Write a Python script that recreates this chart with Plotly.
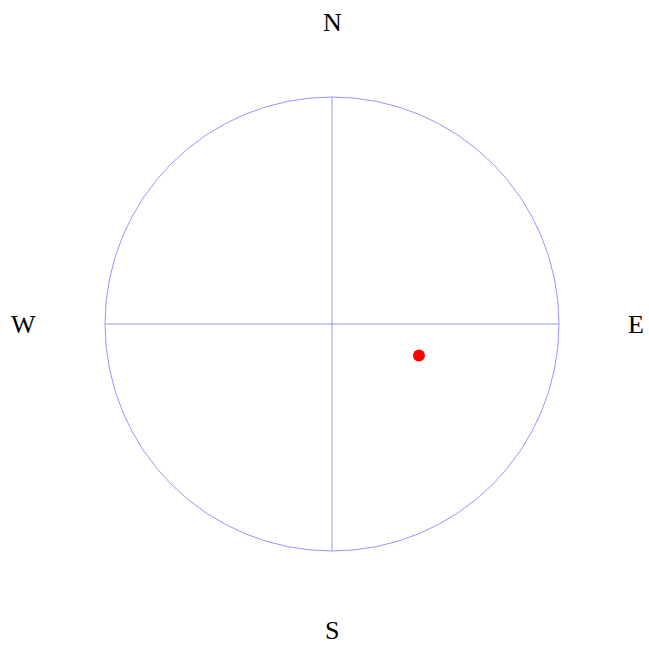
import plotly.graph_objects as go

# Data
point_x = [0.383]
point_y = [-0.139]
labels = ["N", "E", "S", "W"]
label_x = [0.0, 1.339, 0.0, -1.357]
label_y = [1.330, 0.0, -1.348, 0.0]

W, H = 649, 646
cx, cy, r = 332, 324, 227

fig = go.Figure()
fig.add_trace(go.Scatter(x=point_x, y=point_y, mode="markers",
                         marker=dict(color="red", size=12), showlegend=False, hoverinfo="skip"))

line_col = "rgba(130,130,255,0.85)"
fig.add_shape(type="circle", xref="x", yref="y", x0=-1, y0=-1, x1=1, y1=1,
              line=dict(color=line_col, width=1))
fig.add_shape(type="line", xref="x", yref="y", x0=-1, y0=0, x1=1, y1=0,
              line=dict(color=line_col, width=1))
fig.add_shape(type="line", xref="x", yref="y", x0=0, y0=-1, x1=0, y1=1,
              line=dict(color=line_col, width=1))

for t, lx, ly in zip(labels, label_x, label_y):
    fig.add_annotation(x=lx, y=ly, text=t, showarrow=False,
                       font=dict(family="Liberation Serif, serif", size=26, color="black"),
                       xanchor="center", yanchor="middle")

fig.update_xaxes(range=[-cx / r, (W - cx) / r], visible=False, fixedrange=True)
fig.update_yaxes(range=[-(H - cy) / r, cy / r], visible=False, fixedrange=True)
fig.update_layout(width=W, height=H, margin=dict(l=0, r=0, t=0, b=0),
                  plot_bgcolor="white", paper_bgcolor="white")
fig.write_html("out.html", config={"displayModeBar": False},
               post_script="document.body.style.margin='0';document.body.style.overflow='hidden';")
